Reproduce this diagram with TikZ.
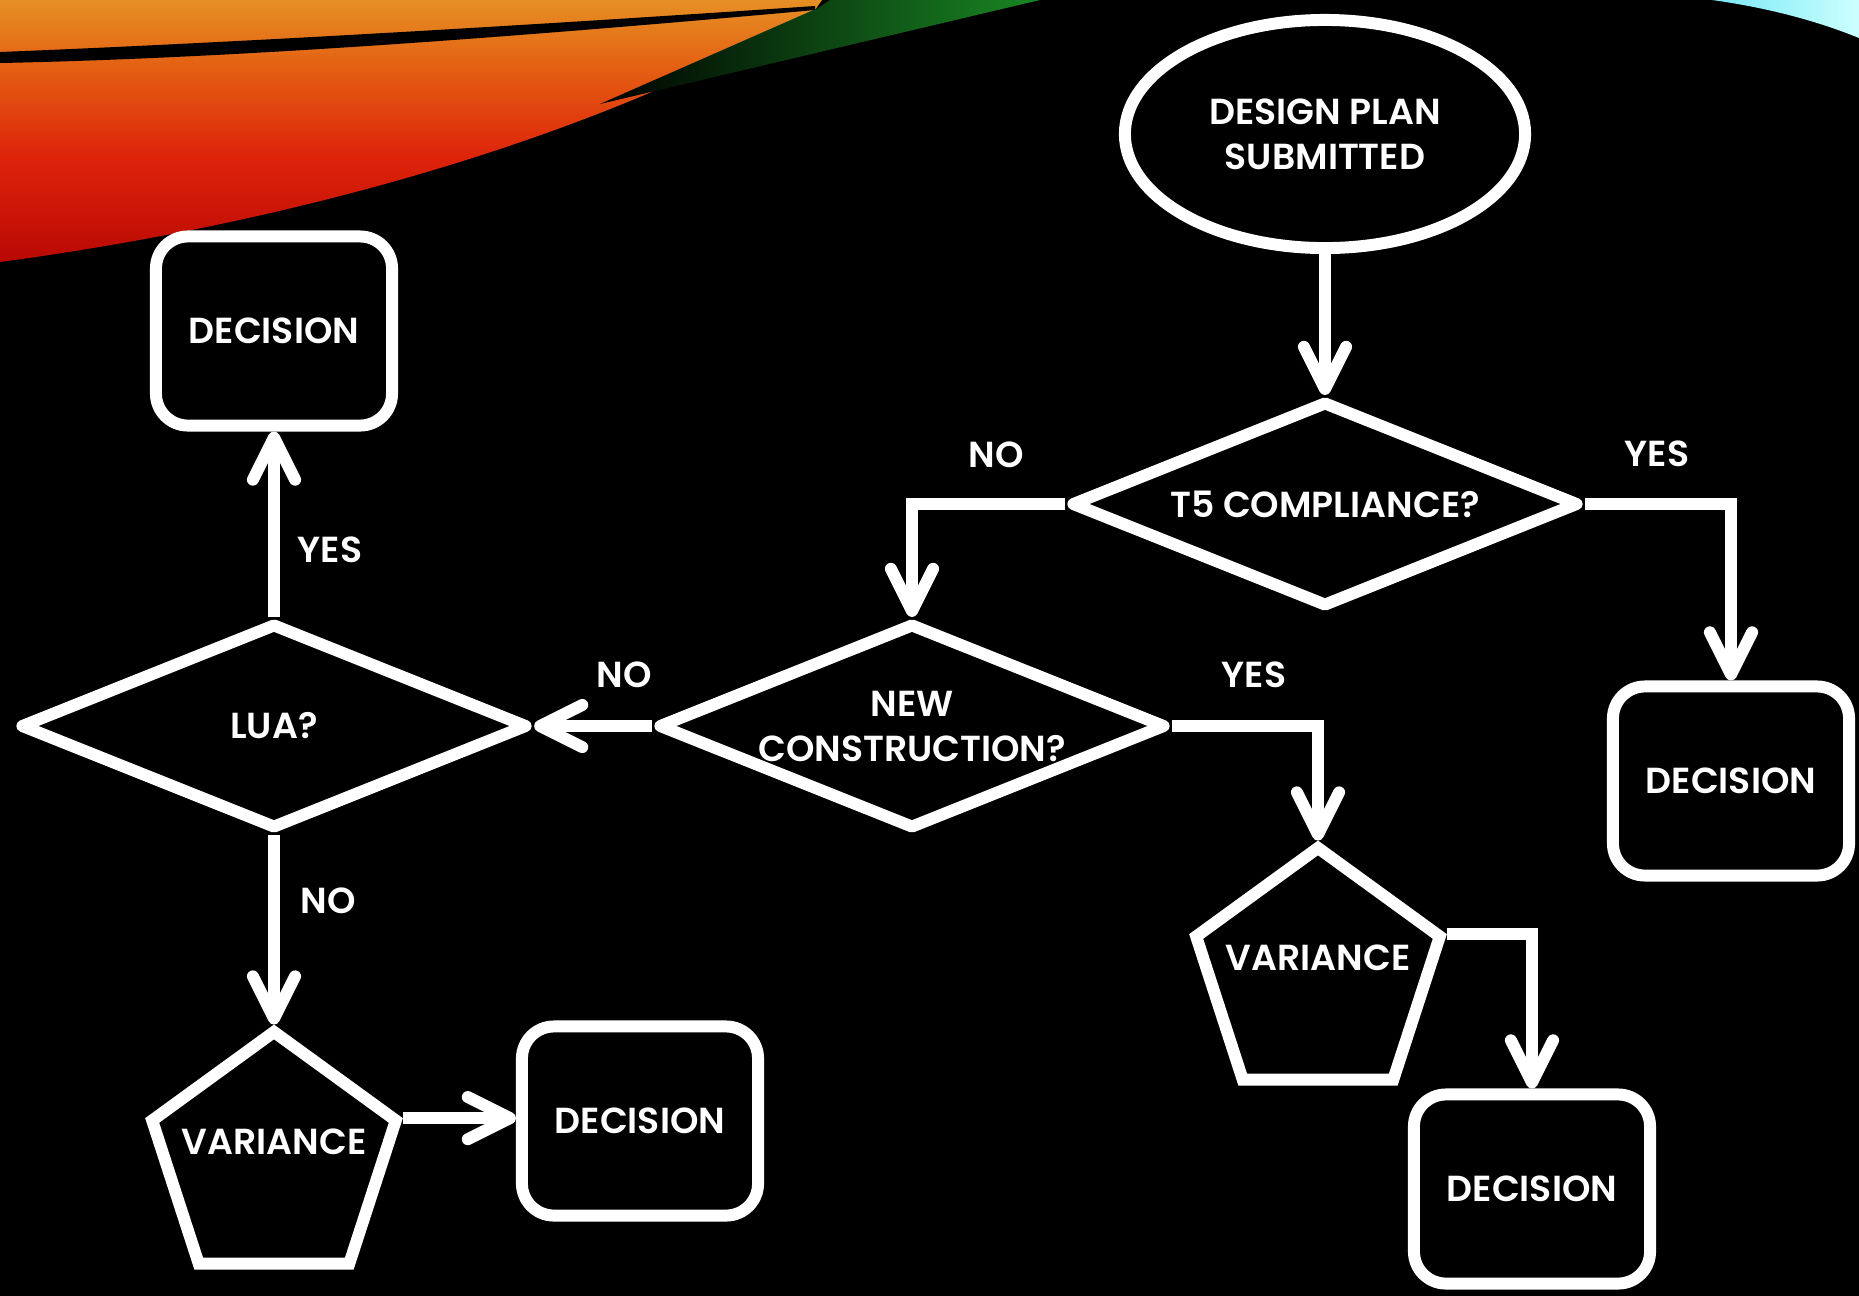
\documentclass[tikz,border=0pt]{standalone}
\usepackage{fontspec}
\setmainfont{Poppins}[UprightFont=* SemiBold]
\usetikzlibrary{shapes.geometric,arrows.meta}
\definecolor{swtop}{RGB}{236,182,62}
\definecolor{swora}{RGB}{230,140,35}
\definecolor{swmid}{RGB}{228,95,18}
\definecolor{swred}{RGB}{222,35,10}
\definecolor{swdeep}{RGB}{180,5,3}
\definecolor{swbot}{RGB}{120,0,0}
\definecolor{swgreen}{RGB}{25,135,35}
\definecolor{swcyan}{RGB}{120,232,245}
\pgfdeclareverticalshading{swoosh}{100bp}{color(0bp)=(swbot); color(22bp)=(swdeep); color(45bp)=(swred); color(62bp)=(swmid); color(74bp)=(swora); color(86bp)=(swtop); color(100bp)=(swtop)}

\begin{document}
\begin{tikzpicture}[x=0.01cm,y=-0.01cm]
\tikzstyle{every node}+=[inner sep=0pt,text=white,font=\fontsize{10.3}{12.8}\selectfont]
\tikzstyle{shapeline}=[draw=white,line width=3.4pt]
\tikzstyle{plan}=[shapeline,ellipse,minimum width=4cm,minimum height=2.28cm,align=center]
\tikzstyle{query}=[shapeline,diamond,line join=round,aspect=2.4,minimum width=5.08cm,minimum height=2.06cm,align=center]
\tikzstyle{decbox}=[shapeline,rectangle,rounded corners=0.32cm,minimum width=2.36cm,minimum height=1.89cm]
\tikzstyle{variance}=[shapeline,regular polygon,regular polygon sides=5,minimum size=2.56cm]
\tikzstyle{flow}=[white,line width=3.4pt,-{Straight Barb[length=12pt,width=12pt,round]}]
\path[use as bounding box,fill=black] (0,0) rectangle (1859,1296);
\shade[shading=swoosh] (0,0) -- (822,0) -- (815,10) .. controls (640,115) and (350,215) .. (0,262) -- cycle;
\fill[black] (0,52) .. controls (250,42) and (550,24) .. (815,6) -- (815,10) .. controls (550,34) and (250,58) .. (0,63) -- cycle;
\shade[left color=black,right color=swgreen] (600,104) -- (818,8) -- (830,0) -- (1040,0) -- cycle;
\shade[left color=swcyan,right color=white!80!cyan] (1712,0) .. controls (1770,8) and (1820,22) .. (1859,38) -- (1859,0) -- cycle;

\node[plan] (plan) at (1325,134) {DESIGN PLAN\\SUBMITTED};
\node[query] (t5) at (1325,504) {T5 COMPLIANCE?};
\node[query] (newc) at (912,726) {NEW\\CONSTRUCTION?};
\node[query] (lua) at (274,726) {LUA?};
\node[decbox] (decA) at (274,331) {DECISION};
\node[decbox] (decB) at (1731,781) {DECISION};
\node[decbox] (decC) at (640,1121) {DECISION};
\node[decbox] (decD) at (1532,1189) {DECISION};
\node[variance] (varA) at (274,1160) {\makebox[0pt]{\raisebox{1.6pt}[0pt][0pt]{VARIANCE}}};
\node[variance] (varB) at (1318,976) {\makebox[0pt]{\raisebox{1.6pt}[0pt][0pt]{VARIANCE}}};

\node (noT) at (996,455) {NO};
\node (yesT) at (1657,454) {YES};
\node (yesN) at (1254,675) {YES};
\node (noN) at (624,675) {NO};
\node (yesL) at (330,550) {YES};
\node (noL) at (328,901) {NO};

\draw[flow] (plan) -- (t5);
\draw[flow] (t5.west) -| (newc.north);
\draw[flow] (t5.east) -| (decB.north);
\draw[flow] (newc.west) -- (lua.east);
\draw[flow] (newc.east) -| (varB.corner 1);
\draw[flow] (lua.north) -- (decA.south);
\draw[flow] (lua.south) -- (varA.corner 1);
\draw[flow] (varA.corner 5) -- (varA.corner 5 -| decC.west);
\draw[flow] (varB.corner 5) -| (decD.north);
\end{tikzpicture}
\end{document}
